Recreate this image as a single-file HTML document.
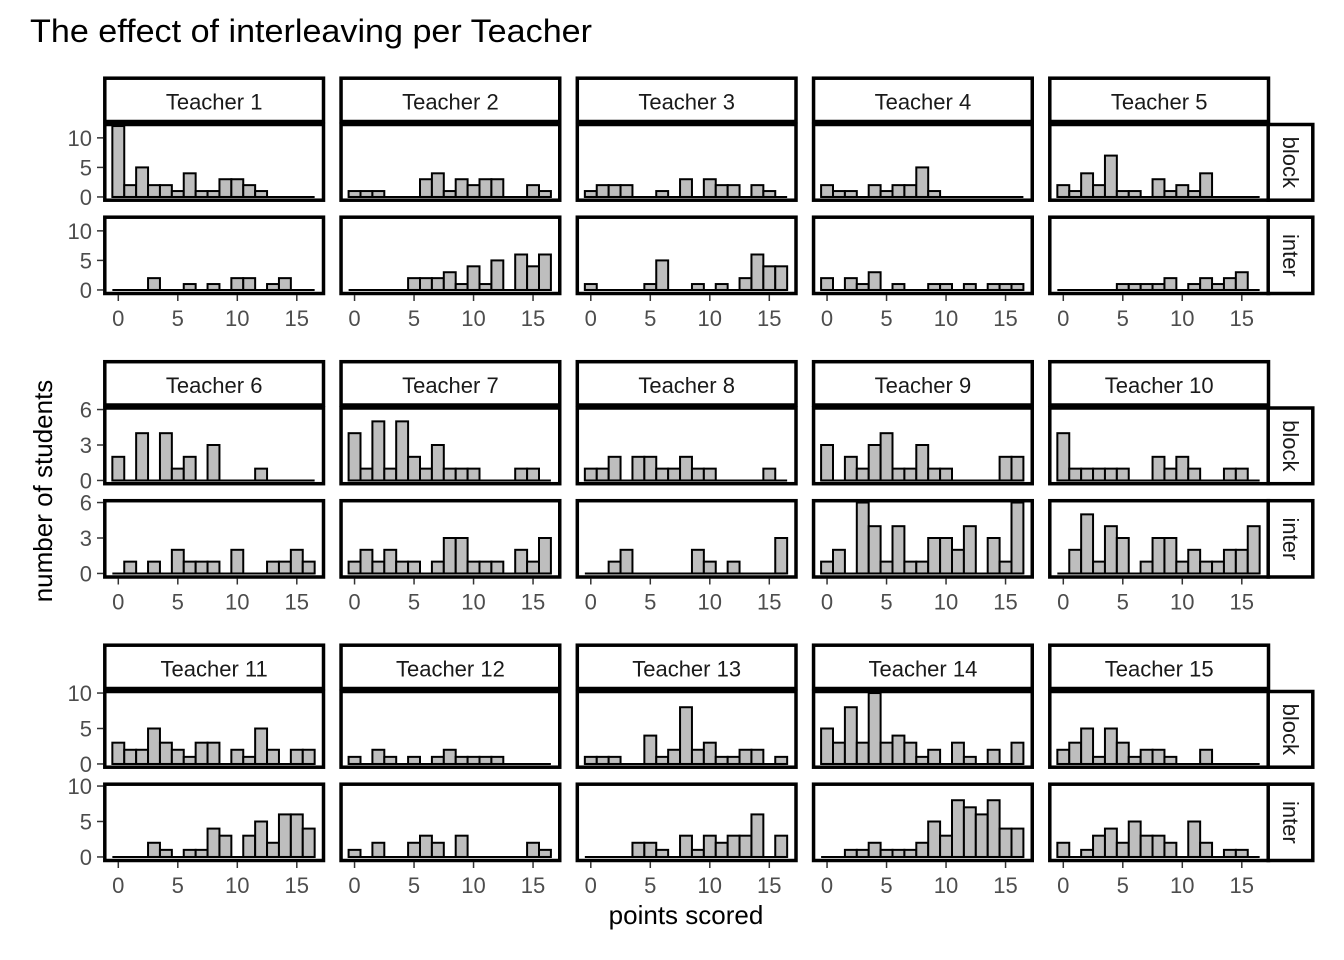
<!DOCTYPE html>
<html><head><meta charset="utf-8">
<style>
html,body{margin:0;padding:0;background:#fff;}
svg{display:block;font-family:"Liberation Sans",Arial,sans-serif;}
</style></head>
<body>
<svg id="chart" width="1344" height="960" viewBox="0 0 1344 960" xmlns="http://www.w3.org/2000/svg">
<rect x="0" y="0" width="1344" height="960" fill="#ffffff"/>
<text x="30" y="42" font-size="32" fill="#000" textLength="562" lengthAdjust="spacingAndGlyphs">The effect of interleaving per Teacher</text>
<text transform="translate(52,491) rotate(-90)" text-anchor="middle" font-size="26" fill="#000">number of students</text>
<text x="686" y="924" text-anchor="middle" font-size="26" fill="#000">points scored</text>
<g id="panels"></g>
</svg>
<script>
const teachers = ["Teacher 1","Teacher 2","Teacher 3","Teacher 4","Teacher 5","Teacher 6","Teacher 7","Teacher 8","Teacher 9","Teacher 10","Teacher 11","Teacher 12","Teacher 13","Teacher 14","Teacher 15"];
const conditions = ["block","inter"];
const bins = [0,1,2,3,4,5,6,7,8,9,10,11,12,13,14,15,16];
const xTicks = [0,5,10,15];
const yTicksRow1 = [0,5,10];
const yTicksRow2 = [0,3,6];
const yTicksRow3 = [0,5,10];
const blockCounts = [
 [12,2,5,2,2,1,4,1,1,3,3,2,1,0,0,0,0],
 [1,1,1,0,0,0,3,4,1,3,2,3,3,0,0,2,1],
 [1,2,2,2,0,0,1,0,3,0,3,2,2,0,2,1,0],
 [2,1,1,0,2,1,2,2,5,1,0,0,0,0,0,0,0],
 [2,1,4,2,7,1,1,0,3,1,2,1,4,0,0,0,0],
 [2,0,4,0,4,1,2,0,3,0,0,0,1,0,0,0,0],
 [4,1,5,1,5,2,1,3,1,1,1,0,0,0,1,1,0],
 [1,1,2,0,2,2,1,1,2,1,1,0,0,0,0,1,0],
 [3,0,2,1,3,4,1,1,3,1,1,0,0,0,0,2,2],
 [4,1,1,1,1,1,0,0,2,1,2,1,0,0,1,1,0],
 [3,2,2,5,3,2,1,3,3,0,2,1,5,2,0,2,2],
 [1,0,2,1,0,1,0,1,2,1,1,1,1,0,0,0,0],
 [1,1,1,0,0,4,1,2,8,2,3,1,1,2,2,0,1],
 [5,3,8,3,10,3,4,3,1,2,0,3,1,0,2,0,3],
 [2,3,5,1,5,3,1,2,2,1,0,0,2,0,0,0,0]
];
const interCounts = [
 [0,0,0,2,0,0,1,0,1,0,2,2,0,1,2,0,0],
 [0,0,0,0,0,2,2,2,3,1,4,1,5,0,6,4,6],
 [1,0,0,0,0,1,5,0,0,1,0,1,0,2,6,4,4],
 [2,0,2,1,3,0,1,0,0,1,1,0,1,0,1,1,1],
 [0,0,0,0,0,1,1,1,1,2,0,1,2,1,2,3,0],
 [0,1,0,1,0,2,1,1,1,0,2,0,0,1,1,2,1],
 [1,2,1,2,1,1,0,1,3,3,1,1,1,0,2,1,3],
 [0,0,1,2,0,0,0,0,0,2,1,0,1,0,0,0,3],
 [1,2,0,6,4,1,4,1,1,3,3,2,4,0,3,1,6],
 [0,2,5,1,4,3,0,1,3,3,1,2,1,1,2,2,4],
 [0,0,0,2,1,0,1,1,4,3,0,3,5,2,6,6,4],
 [1,0,2,0,0,2,3,2,0,3,0,0,0,0,0,2,1],
 [0,0,0,0,2,2,1,0,3,1,3,2,3,3,6,0,3],
 [0,0,1,1,2,1,1,1,2,5,3,8,7,6,8,4,4],
 [2,0,1,3,4,2,5,3,3,2,0,5,2,0,1,1,0]
];
const yTicksByRow = [yTicksRow1, yTicksRow2, yTicksRow3];

const NS = "http://www.w3.org/2000/svg";
const g = document.getElementById("panels");
function mk(tag, attrs, parent){
  const e = document.createElementNS(NS, tag);
  for (const k in attrs) e.setAttribute(k, attrs[k]);
  (parent||g).appendChild(e);
  return e;
}
const COL_STEP = 236.25, ROW_STEP = 283.5;
const PANEL_L = 104.8, PANEL_W = 218.7;
const X0 = 118.3, XS = 11.9;
const PLOT_H = 78;
const panelTops = [122.5, 215.5];
function xScale(col, v){ return X0 + col*COL_STEP + v*XS; }

for (let r = 0; r < 3; r++) {
  const oy = r*ROW_STEP;
  let rowMax = 0;
  for (let c = 0; c < 5; c++) {
    const t = r*5+c;
    rowMax = Math.max(rowMax, ...blockCounts[t], ...interCounts[t]);
  }
  const ys = PLOT_H/(1.1*rowMax);
  const yScale = (p, v) => panelTops[p] + oy + PLOT_H - 0.05*rowMax*ys - v*ys;

  for (let c = 0; c < 5; c++) {
    const t = r*5+c;
    const px = PANEL_L + c*COL_STEP;
    const strip = mk("rect", {x:px, y:78.2+oy, width:PANEL_W, height:43.3, fill:"#fff", stroke:"#000", "stroke-width":3.5});
    
    
    const st = mk("text", {x:px+PANEL_W/2, y:109.5+oy, "text-anchor":"middle", "font-size":22, fill:"#1a1a1a"});
    st.textContent = teachers[t];
    
    

    for (let p = 0; p < 2; p++) {
      const counts = p === 0 ? blockCounts[t] : interCounts[t];
      const top = p === 0 ? 124.5 : 217.2;
      const bot = p === 0 ? 200.2 : 293.5;
      const panel = mk("g", {});
      
      
      const y0 = yScale(p, 0);
      const base = mk("line", {x1:xScale(c, bins[0]-0.5), x2:xScale(c, bins[bins.length-1]+0.5), y1:y0, y2:y0, stroke:"#000", "stroke-width":2}, panel);
      
      
      for (let i = 0; i < bins.length; i++) {
        if (counts[i] <= 0) continue;
        const b = bins[i];
        const x1 = xScale(c, b-0.5), x2 = xScale(c, b+0.5);
        const y1 = yScale(p, counts[i]);
        const bar = mk("rect", {x:x1, y:y1, width:x2-x1, height:y0-y1, fill:"#bebebe", stroke:"#000", "stroke-width":2}, panel);
        
        
      }
      const border = mk("rect", {x:px, y:top+oy, width:PANEL_W, height:bot-top, fill:"none", stroke:"#000", "stroke-width":3.5}, panel);
      
      
      if (c === 0) {
        for (const tv of yTicksByRow[r]) {
          const yy = yScale(p, tv);
          const tk = mk("line", {x1:97, x2:103, y1:yy, y2:yy, stroke:"#333", "stroke-width":1.5});
          
          
          const tl = mk("text", {x:92, y:yy+8, "text-anchor":"end", "font-size":22, fill:"#4d4d4d"});
          tl.textContent = tv;
          
          
        }
      }
      if (c === 4) {
        const rs = mk("rect", {x:1268.2, y:top+oy, width:44.6, height:bot-top, fill:"#fff", stroke:"#000", "stroke-width":3.5});
        
        
        const cy = (top+bot)/2+oy;
        const rt = mk("text", {transform:"translate(1283,"+cy+") rotate(90)", "text-anchor":"middle", "font-size":22, fill:"#1a1a1a"});
        rt.textContent = conditions[p];
        
        
      }
    }
    for (const tv of xTicks) {
      const xx = xScale(c, tv);
      const tk = mk("line", {x1:xx, x2:xx, y1:295+oy, y2:301+oy, stroke:"#333", "stroke-width":1.5});
      
      
      const tl = mk("text", {x:xx, y:326+oy, "text-anchor":"middle", "font-size":22, fill:"#4d4d4d"});
      tl.textContent = tv;
      
      
    }
  }
}
</script>
</body></html>
